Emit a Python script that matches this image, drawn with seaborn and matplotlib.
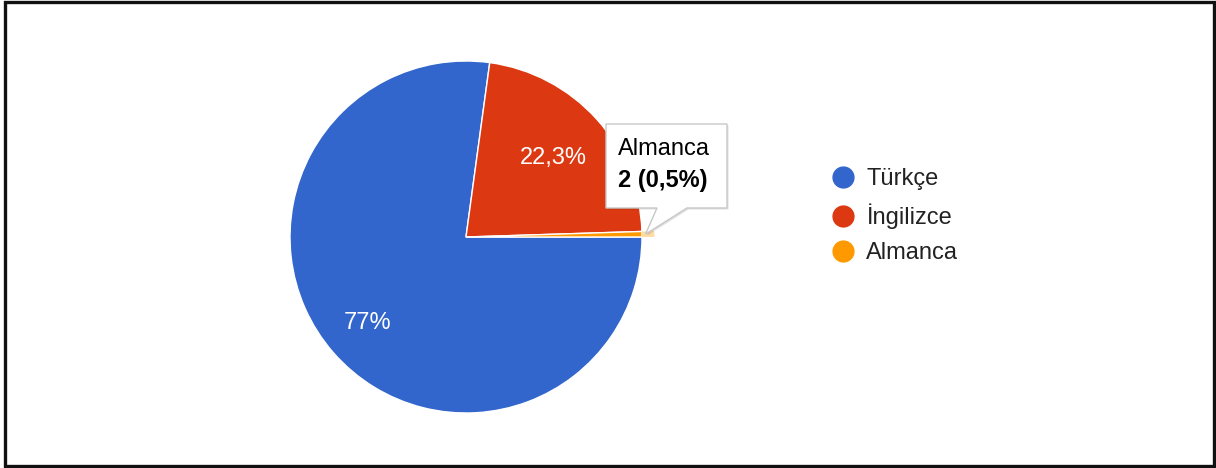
import matplotlib
matplotlib.use("Agg")
import matplotlib.pyplot as plt
import seaborn as sns
import numpy as np
from matplotlib.lines import Line2D
from matplotlib.patches import Polygon, Rectangle, Wedge

# Language distribution
languages = ["Türkçe", "İngilizce", "Almanca"]
shares = [77.0, 22.3, 0.5]          # percent
share_labels = ["77%", "22,3%", "0,5%"]
counts_almanca = 2
palette = ["#3366CC", "#DC3912", "#FF9900"]

sns.set_theme(style="white")
plt.rcParams["font.family"] = ["Liberation Sans", "DejaVu Sans"]

FS = 17
W, H = 1216, 468
fig = plt.figure(figsize=(W / 100, H / 100), dpi=100)
ax = fig.add_axes([0, 0, 1, 1])

cx, cy, R = 466, H - 237, 176
wedges, _ = ax.pie(
    shares, colors=sns.color_palette(palette), startangle=0, counterclock=False,
    center=(cx, cy), radius=R,
    wedgeprops=dict(edgecolor="white", linewidth=1.0),
)
ax.set_aspect("auto")
ax.set_xlim(0, W)
ax.set_ylim(0, H)
ax.axis("off")

# slice percentages drawn inside the two large slices
label_dist = [0.74, 0.67]
for w, txt, d in zip(wedges[:2], share_labels[:2], label_dist):
    mid = np.deg2rad((w.theta1 + w.theta2) / 2)
    ax.text(cx + d * R * np.cos(mid), cy + d * R * np.sin(mid), txt,
            color="white", fontsize=FS, ha="center", va="center")

# hover ring on the small slice
small = wedges[2]
ax.add_patch(Wedge((cx, cy), R * 1.07, small.theta1, small.theta2, width=R * 0.07,
                   facecolor=palette[2], alpha=0.35, edgecolor="none"))

# tooltip callout for the small slice
mid = np.deg2rad((small.theta1 + small.theta2) / 2)
tip = (cx + R * 1.02 * np.cos(mid), cy + R * 1.02 * np.sin(mid))
bl, br, bt, bb = 606, 727, H - 124, H - 208
pointer_l, pointer_r = 657, 687
outline = [(bl, bt), (br, bt), (br, bb), (pointer_r, bb), tip, (pointer_l, bb), (bl, bb)]
shadow = [(x + 1.5, y - 1.5) for x, y in outline]
ax.add_patch(Polygon(shadow, closed=True, facecolor="#000000", alpha=0.12,
                     edgecolor="none", zorder=4))
ax.add_patch(Polygon(outline, closed=True, facecolor="white", edgecolor="#c8c8c8",
                     linewidth=1.0, zorder=5))
ax.text(618, H - 155, languages[2], fontsize=FS, color="#000000", va="baseline", zorder=6)
ax.text(618, H - 187, f"{counts_almanca} ({share_labels[2]})", fontsize=FS,
        fontweight="bold", color="#000000", va="baseline", zorder=6)

# legend
handles = [Line2D([], [], marker="o", linestyle="", markersize=15,
                  markerfacecolor=c, markeredgecolor=c) for c in palette]
leg = ax.legend(handles, languages, loc="upper left",
                bbox_to_anchor=(831, H - 168), bbox_transform=ax.transData,
                frameon=False, fontsize=FS, labelspacing=0.56, handlelength=1.0,
                handletextpad=0.5, borderpad=0, borderaxespad=0)
for t in leg.get_texts():
    t.set_color("#222222")

# outer frame
fig.add_artist(Rectangle((5 / W, 2 / H), (1214 - 5) / W, (466 - 2) / H,
                         transform=fig.transFigure, fill=False,
                         edgecolor="#111111", linewidth=2.4))

fig.savefig("out.png", dpi=100, facecolor="white")
